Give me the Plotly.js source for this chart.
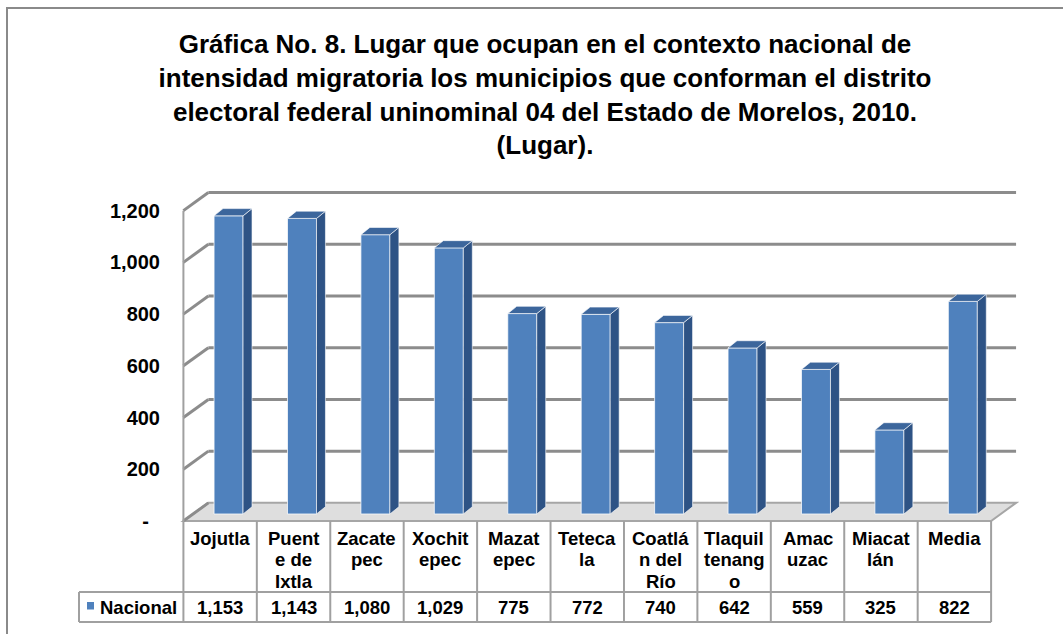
<!DOCTYPE html>
<html>
<head>
<meta charset="utf-8">
<script src="https://cdn.plot.ly/plotly-3.0.1.min.js"></script>
<style>html,body{margin:0;padding:0;background:#fff;}#chart{width:1063px;height:634px;}</style>
</head>
<body>
<div id="chart"></div>
<script>
// ---- data ----
const categories = ['Jojutla', 'Puente de Ixtla', 'Zacatepec', 'Xochitepec', 'Mazatepec', 'Tetecala', 'Coatlán del Río', 'Tlaquiltenango', 'Amacuzac', 'Miacatlán', 'Media'];
const categoryLabels = ['Jojutla', 'Puent<br>e de<br>Ixtla', 'Zacate<br>pec', 'Xochit<br>epec', 'Mazat<br>epec', 'Teteca<br>la', 'Coatlá<br>n del<br>Río', 'Tlaquil<br>tenang<br>o', 'Amac<br>uzac', 'Miacat<br>lán', 'Media'];
const values = [1153, 1143, 1080, 1029, 775, 772, 740, 642, 559, 325, 822];
const seriesName = 'Nacional';
const yTickVals = [0, 200, 400, 600, 800, 1000, 1200];
const yTickText = ['-\u2007', '200', '400', '600', '800', '1,000', '1,200'];
const titleLines = ['Gráfica No. 8. Lugar que ocupan en el contexto nacional de', 'intensidad migratoria los municipios que conforman el distrito', 'electoral federal uninominal 04 del Estado de Morelos, 2010.', '(Lugar).'];

// ---- layout geometry ----
const W = 1063, H = 634;
const M = {l: 179, r: 44, t: 191, b: 112};
const XR = [-0.56, 10.88], YR = [-4, 1276];
const plotW = W - M.l - M.r, plotH = H - M.t - M.b;
const pxX = p => (p - M.l) / plotW;          // pixel -> paper x
const pxY = p => (H - M.b - p) / plotH;      // pixel -> paper y
const DX = 0.34, DY = 70;                    // depth of the 3-D box (data units)
const OX = 0.115, OY = 27;                   // bar front offset
const SDX = 0.122, SDY = 28;                 // bar depth
const BW = 0.395;                            // bar width
const FONT = 'Liberation Sans, Arial, sans-serif';
const blueC = '#4F81BD', sideC = '#2E5385', topC = '#3C669C';
const gridC = '#8c8c8c', tableC = '#a0a0a0';

const n = categories.length;
const idx = categories.map((c, i) => i);
const fmt = v => v.toLocaleString('en-US');

const traces = [];
traces.push({
  type: 'bar', name: seriesName, x: idx.map(i => i + OX), y: values, base: OY, width: BW,
  marker: {color: blueC, line: {color: 'rgba(255,255,255,0.75)', width: 1}},
  hoverinfo: 'skip', showlegend: false
});
values.forEach((v, i) => {
  const xl = i + OX - BW / 2, xr = i + OX + BW / 2;
  traces.push({
    type: 'scatter', mode: 'lines', fill: 'toself', fillcolor: sideC,
    x: [xr, xr + SDX, xr + SDX, xr, xr], y: [OY, OY + SDY, OY + SDY + v, OY + v, OY],
    line: {color: 'rgba(255,255,255,0.6)', width: 1}, hoverinfo: 'skip', showlegend: false
  });
  traces.push({
    type: 'scatter', mode: 'lines', fill: 'toself', fillcolor: topC,
    x: [xl, xr, xr + SDX, xl + SDX, xl], y: [OY + v, OY + v, OY + v + SDY, OY + v + SDY, OY + v],
    line: {color: 'rgba(255,255,255,0.6)', width: 1}, hoverinfo: 'skip', showlegend: false
  });
});

const shapes = [];
// floor
shapes.push({type: 'path', xref: 'x', yref: 'y', layer: 'below',
  path: `M${-0.5},0 L${n - 0.5},0 L${n - 0.5 + DX},${DY} L${-0.5 + DX},${DY} Z`,
  fillcolor: '#dedede', line: {color: '#a6a6a6', width: 2}});
// back wall gridlines and left wall diagonals
yTickVals.forEach(v => {
  if (v > 0) shapes.push({type: 'line', xref: 'x', yref: 'y', layer: 'below',
    x0: -0.5 + DX, x1: n - 0.5 + DX, y0: v + DY, y1: v + DY, line: {color: gridC, width: 3}});
  shapes.push({type: 'line', xref: 'x', yref: 'y', layer: 'below',
    x0: -0.5, x1: -0.5 + DX, y0: v, y1: v + DY, line: {color: gridC, width: 3}});
});
// left front edge
shapes.push({type: 'line', xref: 'x', yref: 'y', layer: 'below',
  x0: -0.5, x1: -0.5, y0: 0, y1: yTickVals[yTickVals.length - 1], line: {color: '#a0a0a0', width: 2}});

// data table
const rowTop = 521, rowMid = 592, rowBot = 622, labelLeft = 79;
for (let i = 0; i <= n; i++) {
  shapes.push({type: 'line', xref: 'x', yref: 'paper', x0: i - 0.5, x1: i - 0.5,
    y0: pxY(rowTop), y1: pxY(rowBot), line: {color: tableC, width: 2}});
}
shapes.push({type: 'line', xref: 'paper', yref: 'paper', x0: pxX(labelLeft), x1: pxX(labelLeft),
  y0: pxY(rowMid), y1: pxY(rowBot), line: {color: tableC, width: 2}});
[rowMid, rowBot].forEach(r => shapes.push({type: 'line', xref: 'paper', yref: 'paper',
  x0: pxX(labelLeft), x1: pxX(M.l + (n - 0.5 - XR[0]) / (XR[1] - XR[0]) * plotW),
  y0: pxY(r), y1: pxY(r), line: {color: tableC, width: 2}}));
// legend key
shapes.push({type: 'rect', xref: 'paper', yref: 'paper', x0: pxX(87), x1: pxX(94),
  y0: pxY(609.5), y1: pxY(602), fillcolor: blueC, line: {width: 0}});
// outer border
shapes.push({type: 'rect', xref: 'paper', yref: 'paper', x0: pxX(7), x1: pxX(1075),
  y0: pxY(645), y1: pxY(8), line: {color: '#8a8a8a', width: 2}, fillcolor: 'rgba(0,0,0,0)'});

const annotations = [];
const tfont = {family: FONT, size: 18.5, color: '#000', weight: 'bold'};
categoryLabels.forEach((lab, i) => {
  lab.split('<br>').forEach((line, k) => {
    annotations.push({xref: 'x', yref: 'paper', x: i, y: pxY(538 + k * 21.7), text: line,
      showarrow: false, xanchor: 'center', yanchor: 'middle', font: tfont});
  });
  annotations.push({xref: 'x', yref: 'paper', x: i, y: pxY(607), text: fmt(values[i]),
    showarrow: false, xanchor: 'center', yanchor: 'middle', font: tfont});
});
annotations.push({xref: 'paper', yref: 'paper', x: pxX(98), y: pxY(607), text: seriesName,
  showarrow: false, xanchor: 'left', yanchor: 'middle', font: tfont});

const layout = {
  width: W, height: H, margin: M, paper_bgcolor: '#fff', plot_bgcolor: 'rgba(0,0,0,0)',
  title: {text: titleLines.join('<br>'), font: {family: FONT, size: 26, color: '#000', weight: 'bold'},
    x: 545 / W, xanchor: 'center', xref: 'container', y: 1 - 53 / H, yanchor: 'top', yref: 'container'},
  xaxis: {range: XR, showgrid: false, zeroline: false, showline: false, showticklabels: false, ticks: '', fixedrange: true},
  yaxis: {range: YR, tickvals: yTickVals, ticktext: yTickText, showgrid: false, zeroline: false, showline: false,
    ticks: '', ticklabelstandoff: 18, tickfont: {family: FONT, size: 20, color: '#000', weight: 'bold'}, fixedrange: true},
  shapes: shapes, annotations: annotations, showlegend: false, hovermode: false, bargap: 0
};
Plotly.newPlot('chart', traces, layout, {staticPlot: true, displayModeBar: false});
</script>
</body>
</html>
